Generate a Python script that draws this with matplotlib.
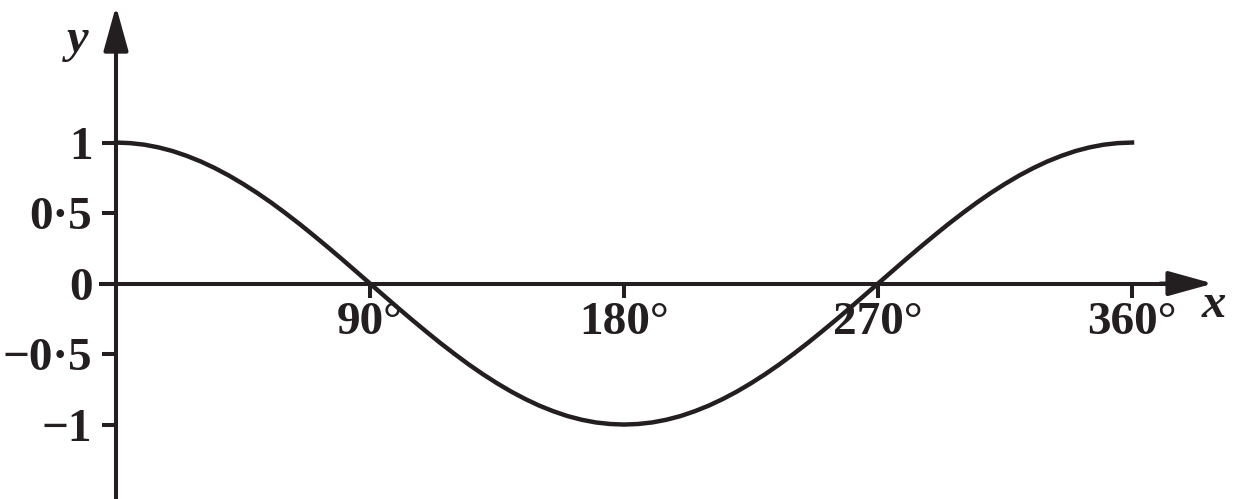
import numpy as np
import matplotlib.pyplot as plt

# values, every 5 degrees
angles = list(range(0, 365, 5))
y_vals = [1.000, 0.996, 0.985, 0.966, 0.940, 0.906, 0.866, 0.819, 0.766, 0.707,
          0.643, 0.574, 0.500, 0.423, 0.342, 0.259, 0.174, 0.087, 0.000,
          -0.087, -0.174, -0.259, -0.342, -0.423, -0.500, -0.574, -0.643, -0.707,
          -0.766, -0.819, -0.866, -0.906, -0.940, -0.966, -0.985, -0.996, -1.000,
          -0.996, -0.985, -0.966, -0.940, -0.906, -0.866, -0.819, -0.766, -0.707,
          -0.643, -0.574, -0.500, -0.423, -0.342, -0.259, -0.174, -0.087, 0.000,
          0.087, 0.174, 0.259, 0.342, 0.423, 0.500, 0.574, 0.643, 0.707,
          0.766, 0.819, 0.866, 0.906, 0.940, 0.966, 0.985, 0.996, 1.000]

x_ticks = [90, 180, 270, 360]
x_labels = ['90°', '180°', '270°', '360°']
y_ticks = [1, 0.5, 0, -0.5, -1]
y_labels = ['1', '0·5', '0', '\u22120·5', '\u22121']

ink = '#231f20'
lw = 2.9

fig = plt.figure(figsize=(12.39, 4.99), dpi=100)
ax = fig.add_axes([0, 0, 1, 1])

ax.plot(angles, y_vals, color=ink, lw=3.2, solid_joinstyle='round', zorder=3)

ax.set_xlim(-41.1, 397.9)
ax.set_ylim(-1.528, 2.011)

ax.spines['top'].set_visible(False)
ax.spines['right'].set_visible(False)
ax.spines['left'].set_position('zero')
ax.spines['bottom'].set_position('zero')
for s in ['left', 'bottom']:
    ax.spines[s].set_linewidth(lw)
    ax.spines[s].set_color(ink)
ax.spines['bottom'].set_bounds(-5.3, 380)
ax.spines['left'].set_bounds(-1.528, 1.9)

# arrow heads
arrow = dict(arrowstyle='-|>,head_length=1.37,head_width=0.38', color=ink,
             lw=lw, shrinkA=0, shrinkB=0, mutation_scale=20)
ax.annotate('', xy=(388.7, 0), xytext=(370, 0), arrowprops=arrow)
ax.annotate('', xy=(0, 1.968), xytext=(0, 1.8), arrowprops=arrow)

font = dict(family='Liberation Serif', weight='bold', size=34)
ax.set_xticks(x_ticks)
ax.set_xticklabels(x_labels, fontdict=font)
ax.set_yticks(y_ticks)
ax.set_yticklabels(y_labels, fontdict=font)
ax.tick_params(axis='both', direction='out', length=10, width=lw, color=ink,
               labelcolor=ink)
ax.tick_params(axis='x', pad=3)
ax.tick_params(axis='y', pad=7)

ax.text(-13.5, 1.727, 'y', family='Liberation Serif', style='italic',
        weight='bold', size=35, color=ink, ha='center', va='center')
ax.text(389, -0.152, 'x', family='Liberation Serif', style='italic',
        weight='bold', size=35, color=ink, ha='center', va='center')

plt.savefig('out.png', dpi=100)
